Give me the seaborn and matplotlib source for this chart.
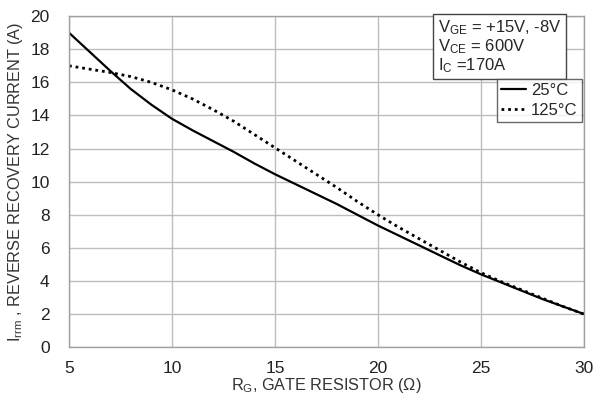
import numpy as np
import pandas as pd
import matplotlib
matplotlib.use("Agg")
import matplotlib.pyplot as plt
import seaborn as sns
from matplotlib.lines import Line2D

rg = [5, 6, 7, 8, 9, 10, 11, 12, 13, 14, 15, 16, 17, 18, 19, 20, 21, 22, 23, 24, 25, 26, 27, 28, 29, 30]
irrm_25 = [19.0, 17.85, 16.7, 15.6, 14.65, 13.8, 13.1, 12.45, 11.8, 11.1, 10.45, 9.85, 9.25, 8.65, 8.0, 7.35,
           6.75, 6.15, 5.55, 4.95, 4.4, 3.9, 3.4, 2.9, 2.45, 2.0]
irrm_125 = [17.0, 16.8, 16.6, 16.35, 16.0, 15.55, 15.0, 14.35, 13.65, 12.85, 12.05, 11.25, 10.45, 9.65, 8.8,
            8.0, 7.25, 6.55, 5.85, 5.15, 4.5, 3.95, 3.45, 2.95, 2.45, 2.0]
series_labels = ["25°C", "125°C"]
x_ticks = [5, 10, 15, 20, 25, 30]
y_ticks = [0, 2, 4, 6, 8, 10, 12, 14, 16, 18, 20]

sns.set_style("white")
plt.rcParams["font.family"] = ["Liberation Sans", "DejaVu Sans"]
plt.rcParams["mathtext.default"] = "regular"

df = pd.DataFrame({
    "rg": rg * 2,
    "irrm": irrm_25 + irrm_125,
    "temp": [series_labels[0]] * len(rg) + [series_labels[1]] * len(rg),
})

fig = plt.figure(figsize=(6.0, 4.05), dpi=100)
ax = fig.add_axes([0.115, 0.143, 0.858, 0.817])

sns.lineplot(data=df[df.temp == series_labels[0]], x="rg", y="irrm", ax=ax, color="black",
             linewidth=1.6, legend=False)
sns.lineplot(data=df[df.temp == series_labels[1]], x="rg", y="irrm", ax=ax, color="black",
             linewidth=2.0, linestyle=(0, (1, 1.4)), legend=False)

ax.set_xlim(5, 30)
ax.set_ylim(0, 20)
ax.set_xticks(x_ticks)
ax.set_yticks(y_ticks)
ax.tick_params(axis="both", length=0, labelsize=12.5, colors="#222222")
ax.tick_params(axis="y", pad=14)
ax.tick_params(axis="x", pad=10)
ax.grid(True, color="#bdbdbd", linewidth=1.0)
for s in ax.spines.values():
    s.set_color("#a0a0a0")
    s.set_linewidth(1.0)

ax.set_xlabel("R$_G$, GATE RESISTOR (Ω)", fontsize=11.7, color="#333333", labelpad=0)
ax.set_ylabel("I$_{rrm}$ , REVERSE RECOVERY CURRENT (A)", fontsize=11.7, color="#333333", labelpad=4)

ax.text(0.716, 0.993, "V$_{GE}$ = +15V, -8V\nV$_{CE}$ = 600V\nI$_C$ =170A", transform=ax.transAxes,
        ha="left", va="top", fontsize=12, linespacing=1.0,
        bbox=dict(boxstyle="square,pad=0.25", fc="white", ec="#444444", lw=1.0))

handles = [Line2D([0], [0], color="black", lw=1.6),
           Line2D([0], [0], color="black", lw=2.0, linestyle=(0, (1, 1.4)))]
leg = ax.legend(handles, series_labels, loc="upper right", bbox_to_anchor=(0.996, 0.81),
                fontsize=12, frameon=True, fancybox=False, handlelength=1.5, handletextpad=0.3,
                borderpad=0.25, labelspacing=0.3, borderaxespad=0.0)
leg.get_frame().set_edgecolor("#444444")
leg.get_frame().set_linewidth(1.0)

fig.savefig("out.png", dpi=100)
